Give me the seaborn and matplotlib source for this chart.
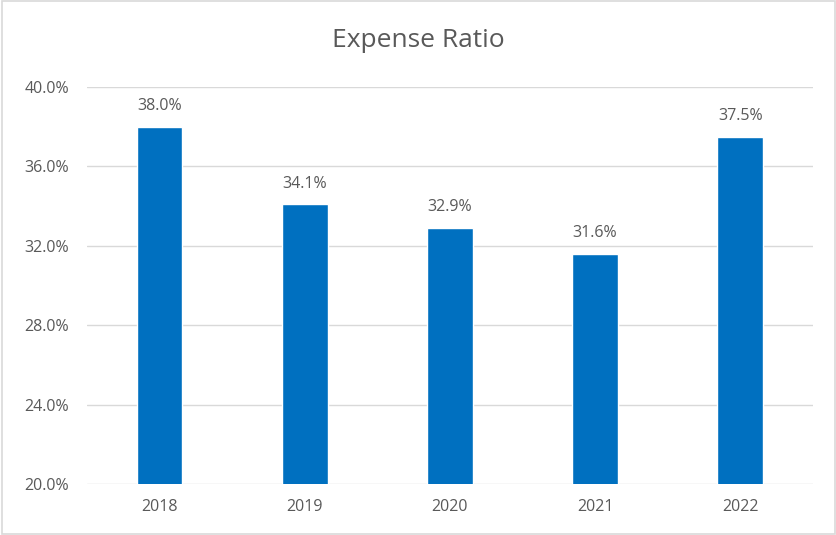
import matplotlib
matplotlib.use("Agg")
import matplotlib.pyplot as plt
import pandas as pd
import seaborn as sns
from matplotlib.patches import Rectangle
from matplotlib.ticker import FuncFormatter

years = ["2018", "2019", "2020", "2021", "2022"]
expense_ratio = [38.0, 34.1, 32.9, 31.6, 37.5]
y_ticks = [20, 24, 28, 32, 36, 40]

TEXT = "#595959"
BAR = "#0070C0"

sns.set_theme(style="white")
plt.rcParams["font.family"] = ["Open Sans", "DejaVu Sans"]

data = pd.DataFrame({"year": years, "ratio": expense_ratio})

fig = plt.figure(figsize=(8.37, 5.35), dpi=100)
ax = fig.add_axes([0.104, 0.0953, 0.867, 0.742])

sns.barplot(data=data, x="year", y="ratio", color=BAR, width=0.315,
            saturation=1, ax=ax, zorder=3)

ax.set_ylim(20, 40)
ax.set_yticks(y_ticks)
ax.yaxis.set_major_formatter(FuncFormatter(lambda v, _: f"{v:.1f}%"))
ax.grid(axis="y", color="#D9D9D9", linewidth=1, zorder=0)
ax.set_axisbelow(True)
for side in ("top", "right", "left", "bottom"):
    ax.spines[side].set_visible(False)
ax.tick_params(axis="both", length=0, labelsize=11.5, colors=TEXT)
ax.tick_params(axis="y", pad=13)
ax.tick_params(axis="x", pad=11)
ax.set_xlabel("")
ax.set_ylabel("")

for patch, val in zip(ax.patches, expense_ratio):
    ax.annotate(f"{val:.1f}%", (patch.get_x() + patch.get_width() / 2, val),
                xytext=(0, 9), textcoords="offset points", ha="center",
                va="bottom", fontsize=11.5, color=TEXT)

fig.text(0.5, 0.925, "Expense Ratio", ha="center", va="center",
         fontsize=19, color=TEXT)

fig.patches.append(Rectangle((0.002, 0.002), 0.996, 0.996, transform=fig.transFigure,
                             fill=False, edgecolor="#D9D9D9", linewidth=1.2))

fig.savefig("out.png", dpi=100, facecolor="white")
